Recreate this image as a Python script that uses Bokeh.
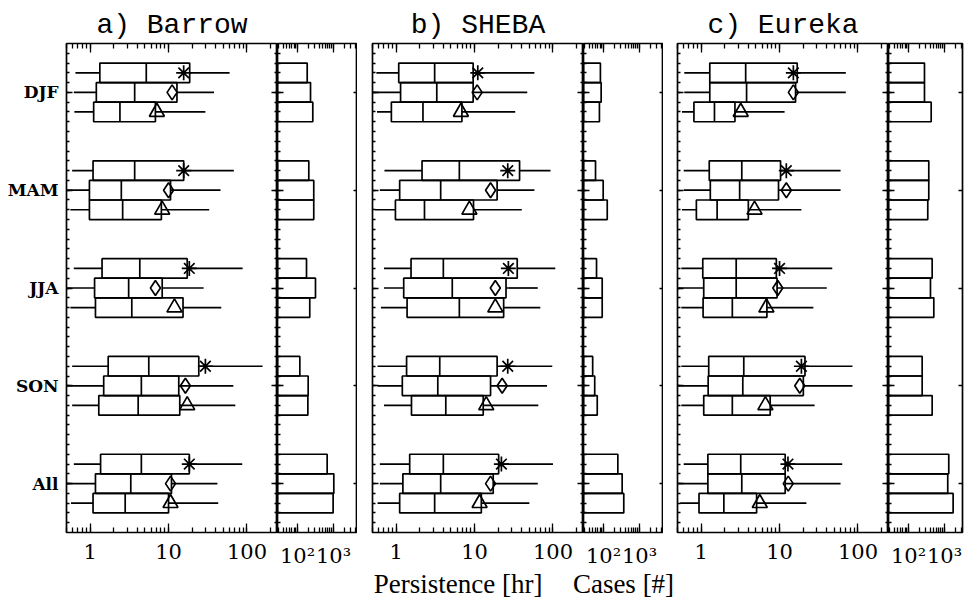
import math
from bokeh.plotting import figure
from bokeh.layouts import column, row
from bokeh.models import (Range1d, FixedTicker, LogAxis, LinearAxis, ColumnDataSource,
                          BasicTickFormatter, CustomLabelingPolicy)
from bokeh.core.properties import value
from bokeh.embed import file_html
from bokeh.resources import INLINE

stations = ["a) Barrow", "b) SHEBA", "c) Eureka"]
seasons = ["DJF", "MAM", "JJA", "SON", "All"]
markers = ["asterisk", "diamond", "triangle"]

# persistence statistics [hr]: per season, three boxes (asterisk, diamond, triangle)
barrow_wlo = [[0.65, 0.62, 0.63], [0.59, 0.51, 0.56], [0.62, 0.50, 0.56], [0.59, 0.50, 0.59], [0.62, 0.50, 0.57]]
barrow_q1 = [[1.33, 1.20, 1.11], [1.09, 0.98, 0.98], [1.42, 1.14, 1.17], [1.70, 1.49, 1.29], [1.36, 1.17, 1.09]]
barrow_med = [[5.2, 3.7, 2.4], [3.7, 2.5, 2.6], [4.3, 3.1, 3.4], [5.6, 4.5, 4.1], [4.5, 3.3, 2.8]]
barrow_q3 = [[18.6, 12.8, 6.8], [15.6, 10.6, 8.1], [17.3, 8.3, 15.3], [24.3, 13.5, 13.9], [18.4, 10.9, 10.0]]
barrow_mean = [[15.6, 11.1, 7.1], [15.6, 10.0, 8.3], [18.4, 6.8, 11.9], [29.5, 16.4, 17.3], [18.4, 10.6, 10.6]]
barrow_whi = [[60, 38, 29.5], [68, 46, 33], [88, 28, 47], [158, 67, 71], [87, 42, 43]]
barrow_cases = [[186, 230, 266], [206, 283, 283], [178, 316, 219], [116, 198, 194], [667, 1021, 977]]

sheba_wlo = [[0.56, 0.51, 0.57], [0.71, 0.62, 0.54], [0.70, 0.70, 0.64], [0.58, 0.58, 0.70], [0.62, 0.62, 0.58]]
sheba_q1 = [[1.08, 1.14, 0.87], [2.14, 1.11, 0.98], [1.55, 1.25, 1.38], [1.36, 1.20, 1.57], [1.49, 1.22, 1.11]]
sheba_med = [[3.1, 3.3, 2.2], [6.4, 3.7, 2.3], [4.0, 5.2, 6.4], [3.6, 3.4, 4.3], [4.0, 3.7, 3.1]]
sheba_q3 = [[9.6, 9.6, 6.9], [37.5, 19.4, 9.7], [35.0, 25.2, 23.5], [19.4, 16.0, 12.9], [20.3, 17.3, 12.2]]
sheba_mean = [[11.0, 10.8, 6.7], [26.5, 16.0, 8.6], [27.0, 18.4, 18.4], [26.5, 22.5, 14.1], [22.0, 16.0, 11.6]]
sheba_whi = [[58, 47, 33], [93, 58, 40], [107, 64, 69], [98, 84, 65], [100, 64, 50]]
sheba_cases = [[82, 86, 77], [60, 98, 127], [64, 92, 92], [50, 57, 67], [250, 330, 366]]

eureka_wlo = [[0.61, 0.61, 0.57], [0.60, 0.60, 0.57], [0.56, 0.50, 0.56], [0.56, 0.50, 0.56], [0.60, 0.52, 0.54]]
eureka_q1 = [[1.29, 1.29, 0.81], [1.27, 1.31, 0.87], [1.05, 1.08, 1.06], [1.25, 1.23, 1.08], [1.22, 1.22, 0.94]]
eureka_med = [[3.7, 3.8, 1.48], [3.3, 3.1, 1.6], [2.8, 2.8, 2.5], [3.5, 3.4, 2.5], [3.2, 3.3, 1.95]]
eureka_q3 = [[16.8, 16.0, 2.7], [10.3, 9.7, 4.0], [9.1, 9.3, 6.9], [21.1, 20.1, 7.6], [11.8, 11.8, 5.1]]
eureka_mean = [[15.0, 15.0, 3.2], [12.2, 12.2, 4.8], [10.0, 9.5, 6.8], [19.0, 18.1, 6.6], [12.8, 12.9, 5.6]]
eureka_whi = [[70, 70, 11.6], [60, 60, 19.0], [47, 40, 27], [85, 85, 28], [63, 60, 22]]
eureka_cases = [[278, 278, 427], [366, 366, 343], [455, 408, 505], [240, 240, 455], [1315, 1232, 1738]]

box_ticks = [1, 10, 100]
box_tick_labels = ["1", "10", "100"]
case_ticks = [100, 1000]
case_tick_labels = ["10\u00b2", "10\u00b3"]

station_data = [
    (barrow_wlo, barrow_q1, barrow_med, barrow_q3, barrow_mean, barrow_whi, barrow_cases),
    (sheba_wlo, sheba_q1, sheba_med, sheba_q3, sheba_mean, sheba_whi, sheba_cases),
    (eureka_wlo, eureka_q1, eureka_med, eureka_q3, eureka_mean, eureka_whi, eureka_cases),
]

# ---------------- layout / style ----------------
LW = 1.7
TICK_FONT = "DejaVu Serif"
BOX_RANGE = (0.5, 245)
CASE_START, CASE_END = 27.8, 4650
BOX_W = 211
BAR_W = 80
LAST_BAR_W = 74
LEFT_BORDERS = [66, 15, 14]
TOP_B = 2
FRAME_H = 489
BOT_B = 38
FIG_H = TOP_B + FRAME_H + BOT_B
HEAD_H = 41
FOOT_H = 30
TOTAL_W = sum(LEFT_BORDERS) + 3 * BOX_W + 2 * BAR_W + LAST_BAR_W + 2

box_minor = [m * 10.0 ** e for e in (-1, 0, 1, 2) for m in range(1, 10)]
case_minor = [m * 10.0 ** e for e in (1, 2, 3) for m in range(1, 10)]
y_major = [2.5 + 5 * k for k in range(len(seasons))]
y_minor = [0.5 * i for i in range(1, 50)]

no_labels = CustomLabelingPolicy(code="return []")


def hide_labels(ax):
    ax.major_label_policy = no_labels
    ax.major_label_text_font_size = "0px"
    ax.major_label_standoff = 0
    ax.axis_label_standoff = 0


def style_axis(ax, maj_in, min_in):
    ax.axis_line_color = None
    ax.major_tick_out = 0
    ax.minor_tick_out = 0
    ax.major_tick_in = maj_in
    ax.minor_tick_in = min_in
    ax.major_tick_line_width = 1.3
    ax.minor_tick_line_width = 1.3
    ax.major_tick_line_color = "black"
    ax.minor_tick_line_color = "black"


def x_log_axis(ticks, minor, labels, show):
    ax = LogAxis(ticker=FixedTicker(ticks=ticks, minor_ticks=minor), formatter=BasicTickFormatter())
    style_axis(ax, 9, 5)
    if show:
        ax.major_label_overrides = {t: l for t, l in zip(ticks, labels)}
        ax.major_label_text_font = TICK_FONT
        ax.major_label_text_font_size = "21px"
        ax.major_label_text_color = "black"
        ax.major_label_standoff = 11
    else:
        hide_labels(ax)
    return ax


def y_axis(show, maj_in=6, min_in=3, minor=True):
    ax = LinearAxis(ticker=FixedTicker(ticks=y_major, minor_ticks=y_minor if minor else []))
    style_axis(ax, maj_in, min_in)
    if show:
        ax.major_label_overrides = {t: s for t, s in zip(y_major, seasons)}
        ax.major_label_text_font = TICK_FONT
        ax.major_label_text_font_style = "bold"
        ax.major_label_text_font_size = "17px"
        ax.major_label_text_color = "black"
        ax.major_label_standoff = 8
    else:
        hide_labels(ax)
    return ax


def base_fig(width, xr, left_b, right_b):
    p = figure(width=width, height=FIG_H, x_axis_type="log", x_range=Range1d(*xr),
               y_range=Range1d(25, 0), x_axis_location=None, y_axis_location=None,
               output_backend="svg", toolbar_location=None, tools="", title=None,
               min_border_left=left_b, min_border_right=right_b,
               min_border_top=TOP_B, min_border_bottom=BOT_B)
    p.outline_line_color = "black"
    p.outline_line_width = LW
    p.background_fill_color = "white"
    p.border_fill_color = "white"
    p.grid.visible = False
    return p


def flat(arr):
    return [v for grp in arr for v in grp]


ypos = [2.5 + 5 * k + (j - 1) for k in range(len(seasons)) for j in range(3)]
mk = [markers[j] for k in range(len(seasons)) for j in range(3)]

figs = []
box_centers = []
bar_centers = []
cursor = 0
for i, (wlo, q1, med, q3, mean, whi, cases) in enumerate(station_data):
    left_b = LEFT_BORDERS[i]
    pb = base_fig(left_b + BOX_W, BOX_RANGE, left_b, 0)
    box_centers.append(cursor + left_b + BOX_W / 2)
    cursor += left_b + BOX_W
    src = ColumnDataSource(dict(y=ypos, ytop=[y - 0.5 for y in ypos], ybot=[y + 0.5 for y in ypos],
                                wlo=flat(wlo), q1=flat(q1), med=flat(med), q3=flat(q3),
                                mean=flat(mean), whi=flat(whi), mk=mk))
    pb.segment(x0="wlo", y0="y", x1="q1", y1="y", source=src, line_color="black", line_width=LW)
    pb.segment(x0="q3", y0="y", x1="whi", y1="y", source=src, line_color="black", line_width=LW)
    pb.quad(left="q1", right="q3", top="ytop", bottom="ybot", source=src,
            fill_color=None, line_color="black", line_width=LW)
    pb.segment(x0="med", y0="ytop", x1="med", y1="ybot", source=src, line_color="black", line_width=LW)
    pb.scatter(x="mean", y="y", marker="mk", source=src, size=15, fill_color=None,
               line_color="black", line_width=LW)
    pb.add_layout(x_log_axis(box_ticks, box_minor, box_tick_labels, True), "below")
    pb.add_layout(x_log_axis(box_ticks, box_minor, box_tick_labels, False), "above")
    pb.add_layout(y_axis(i == 0), "left")
    pb.add_layout(y_axis(False), "right")
    figs.append(pb)

    last = i == len(station_data) - 1
    bw = LAST_BAR_W if last else BAR_W
    right_b = 2 if last else 0
    # keep the same pixels-per-decade in every cases panel
    span = math.log10(CASE_END / CASE_START) * bw / BAR_W
    crange = (CASE_START, CASE_START * 10 ** span)
    pc = base_fig(bw + right_b, crange, 0, right_b)
    bar_centers.append(cursor + bw / 2)
    cursor += bw + right_b
    csrc = ColumnDataSource(dict(y=ypos, cases=flat(cases), lo=[1.0] * len(ypos)))
    pc.hbar(y="y", height=1.0, left="lo", right="cases", source=csrc,
            fill_color=None, line_color="black", line_width=LW)
    pc.add_layout(x_log_axis(case_ticks, case_minor, case_tick_labels, True), "below")
    pc.add_layout(x_log_axis(case_ticks, case_minor, case_tick_labels, False), "above")
    pc.add_layout(y_axis(False), "left")
    pc.add_layout(y_axis(False, maj_in=4, min_in=0, minor=False), "right")
    figs.append(pc)


def text_fig(height):
    p = figure(width=TOTAL_W, height=height, x_range=Range1d(0, TOTAL_W), y_range=Range1d(0, height),
               x_axis_location=None, y_axis_location=None, output_backend="svg",
               toolbar_location=None, tools="", title=None, min_border=0)
    p.outline_line_color = None
    p.background_fill_color = "white"
    p.border_fill_color = "white"
    p.grid.visible = False
    return p


head = text_fig(HEAD_H)
head.text(x=box_centers, y=[16] * 3, text=stations, text_align="center", text_baseline="alphabetic",
          text_font=value("Liberation Mono"), text_font_size="28px", text_color="black")

foot = text_fig(FOOT_H)
foot.text(x=[bar_centers[1] - 81], y=[17], text=["Persistence [hr]"], text_align="right",
          text_baseline="alphabetic", text_font=value("Liberation Serif"), text_font_size="27px",
          text_color="black")
foot.text(x=[bar_centers[1]], y=[17], text=["Cases [#]"], text_align="center",
          text_baseline="alphabetic", text_font=value("Liberation Serif"), text_font_size="27px",
          text_color="black")

layout = column(head, row(*figs, spacing=0), foot, spacing=0)

html = file_html(layout, INLINE)
open("out.html", "w").write(html)
